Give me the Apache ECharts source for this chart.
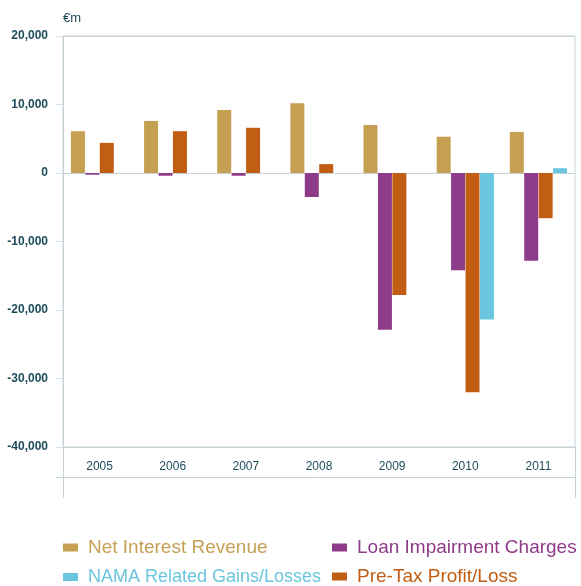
<!DOCTYPE html>
<html>
<head>
<meta charset="utf-8">
<title>Bank results 2005-2011</title>
<script src="https://cdn.jsdelivr.net/npm/echarts@6/dist/echarts.min.js"></script>
<style>
  html, body { margin: 0; padding: 0; background: #ffffff; }
  #chart { width: 581px; height: 586px; }
</style>
</head>
<body>
<div id="chart"></div>
<script>
// Years shown on the category axis
const years = ['2005', '2006', '2007', '2008', '2009', '2010', '2011'];

// Values in € millions
const netInterestRevenue = [6100, 7600, 9200, 10200, 7000, 5300, 6000];
const loanImpairmentCharges = [-250, -400, -400, -3500, -22900, -14200, -12800];
const preTaxProfitLoss = [4400, 6100, 6600, 1300, -17800, -32000, -6600];
const namaGainsLosses = [null, null, null, null, null, -21400, 700];

// Value axis ticks
const yTicks = [-40000, -30000, -20000, -10000, 0, 10000, 20000];

const colors = {
  nir: '#C6A052',
  lic: '#8E3B8A',
  nama: '#6AC5DE',
  ptp: '#C25E13'
};
const lineColor = '#c6d2d8';
const textColor = '#1d4d5b';
const font = 'Liberation Sans, Arial, sans-serif';

const grid = { left: 63, right: 6, top: 36, bottom: 139 };
const W = 581, H = 586;
const gridBottomY = H - grid.bottom;
const gridRightX = W - grid.right;

const chart = echarts.init(document.getElementById('chart'), null, { renderer: 'canvas' });

// Gridlines only at the top, zero and bottom of the scale
const splitColors = yTicks.map(v => (v === 0 || v === yTicks[0] || v === yTicks[yTicks.length - 1]) ? lineColor : 'rgba(0,0,0,0)');

function fmt(v) {
  return v.toLocaleString('en-US');
}

// One legend block per entry, laid out as a 2 x 2 grid
function legendItem(name, color, left, top, size) {
  return {
    left: left,
    top: top,
    itemWidth: 15,
    itemHeight: 8,
    icon: 'rect',
    textStyle: { fontFamily: font, fontSize: size, color: color, padding: [0, 0, 0, 5] },
    data: [name]
  };
}

chart.setOption({
  animation: false,
  color: [colors.nir, colors.lic, colors.ptp, colors.nama],
  grid: Object.assign({ show: true, borderColor: lineColor, borderWidth: 1 }, grid),
  xAxis: {
    type: 'category',
    data: years,
    position: 'bottom',
    axisLine: { onZero: false, lineStyle: { color: lineColor } },
    axisTick: { inside: true, length: 8, lineStyle: { color: lineColor } },
    axisLabel: { color: textColor, fontFamily: font, fontSize: 12, margin: 14 },
    splitLine: { show: false }
  },
  yAxis: {
    type: 'value',
    min: yTicks[0],
    max: yTicks[yTicks.length - 1],
    interval: 10000,
    name: '€m',
    nameLocation: 'end',
    nameGap: 11,
    nameTextStyle: { color: textColor, fontFamily: font, fontSize: 13, align: 'left' },
    axisLine: { show: true, lineStyle: { color: lineColor } },
    axisTick: { show: true, length: 7, lineStyle: { color: '#d9e2e6' } },
    axisLabel: {
      color: textColor,
      fontFamily: font,
      fontSize: 12,
      fontWeight: 'bold',
      margin: 15,
      formatter: fmt
    },
    splitLine: { show: true, lineStyle: { color: splitColors, width: 1 } }
  },
  legend: [
    legendItem('Net Interest Revenue', colors.nir, 58, 533, 19),
    legendItem('Loan Impairment Charges', colors.lic, 327, 533, 19),
    legendItem('NAMA Related Gains/Losses', colors.nama, 58, 563, 18),
    legendItem('Pre-Tax Profit/Loss', colors.ptp, 327, 562, 19)
  ],
  series: [
    { name: 'Net Interest Revenue', type: 'bar', data: netInterestRevenue, barWidth: 14, barGap: '3%' },
    { name: 'Loan Impairment Charges', type: 'bar', data: loanImpairmentCharges, barWidth: 14, barGap: '3%' },
    { name: 'Pre-Tax Profit/Loss', type: 'bar', data: preTaxProfitLoss, barWidth: 14, barGap: '3%' },
    { name: 'NAMA Related Gains/Losses', type: 'bar', data: namaGainsLosses, barWidth: 14, barGap: '3%' }
  ],
  // Frame lines that continue below the plot around the year labels
  graphic: [
    { type: 'line', silent: true, shape: { x1: grid.left + 0.5, y1: gridBottomY, x2: grid.left + 0.5, y2: gridBottomY + 51 }, style: { stroke: lineColor, lineWidth: 1 } },
    { type: 'line', silent: true, shape: { x1: gridRightX + 0.5, y1: gridBottomY, x2: gridRightX + 0.5, y2: gridBottomY + 51 }, style: { stroke: lineColor, lineWidth: 1 } },
    { type: 'line', silent: true, shape: { x1: grid.left - 7, y1: gridBottomY + 30.5, x2: gridRightX, y2: gridBottomY + 30.5 }, style: { stroke: lineColor, lineWidth: 1 } }
  ]
});
</script>
</body>
</html>
